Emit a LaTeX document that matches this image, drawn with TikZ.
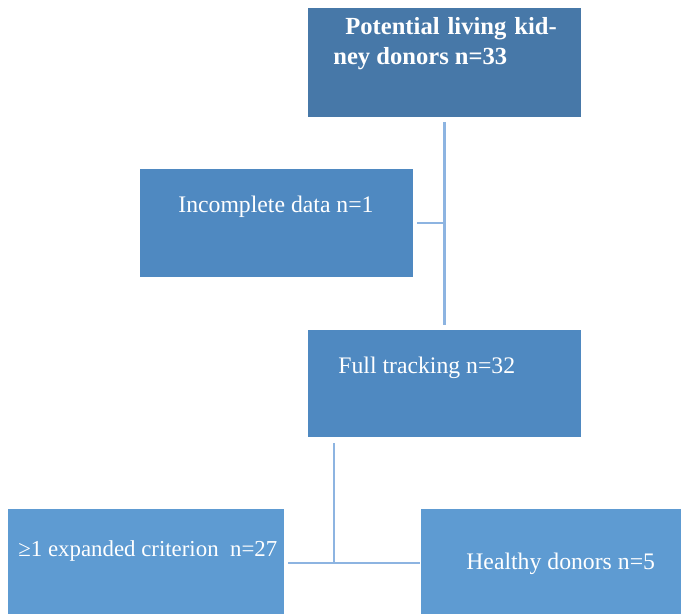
\documentclass[tikz,border=0pt]{standalone}
\usepackage{fontspec}
\setmainfont{Liberation Serif}
\usepackage{xcolor}
\usepackage{tikz}
\usetikzlibrary{positioning,calc}

\definecolor{boxdark}{HTML}{4778A8}
\definecolor{boxmid}{HTML}{4F89C1}
\definecolor{boxlight}{HTML}{5E9BD2}
\definecolor{linkblue}{HTML}{8DB4E1}

\begin{document}
\begin{tikzpicture}[
    box/.style={rectangle, draw=none, minimum width=5.46cm, minimum height=2.16cm,
                inner sep=0pt},
    txt/.style={anchor=west, text=white, font=\fontsize{13.5}{16}\selectfont, inner sep=0pt},
    link/.style={draw=linkblue, line width=1.2pt},
  ]
  \useasboundingbox (0,0) rectangle (13.62,-12.28);

  % Potential donors
  \node[box, fill=boxdark, minimum height=2.18cm] (top) at (8.89,-1.25) {};
  \node[txt, anchor=north west, align=left, font=\fontsize{14}{17}\selectfont\bfseries] (toptxt) at (6.66,-0.34)
    {\hspace{0.24cm}Potential\hspace{0.16cm}living\hspace{0.16cm}kid-\\ney donors n=33};

  % Incomplete data
  \node[box, fill=boxmid] (inc) at (5.53,-4.46) {};
  \node[txt] (inctxt) at (3.56,-4.14) {Incomplete data n=1};

  % Full tracking
  \node[box, fill=boxmid, minimum height=2.14cm] (full) at (8.89,-7.67) {};
  \node[txt] (fulltxt) at (6.76,-7.36) {Full tracking n=32};

  % Expanded criterion
  \node[box, fill=boxlight, minimum width=5.52cm, minimum height=2.3cm] (exp) at (2.92,-11.33) {};
  \node[txt, font=\fontsize{13}{16}\selectfont] (exptxt) at (0.36,-11.02) {≥1 expanded criterion\ \ n=27};

  % Healthy donors
  \node[box, fill=boxlight, minimum width=5.3cm, minimum height=2.3cm] (heal) at (11.07,-11.33) {};
  \node[txt] (healtxt) at (9.32,-11.28) {Healthy donors n=5};

  % Connectors
  \coordinate (join) at (top.south |- inc.east);
  \coordinate (drop) at ([xshift=0.52cm]full.south west);
  \coordinate (split) at ($(drop |- exp.east)+(0,0.07)$);

  \draw[link, shorten <=0.1cm, shorten >=0.1cm] (top.south) -- (full.north);
  \draw[link, shorten <=0.08cm] (inc.east) -- (join);

  \draw[link, shorten <=0.12cm] (drop) -- (split);
  \draw[link, shorten <=0.08cm, shorten >=0.02cm] (exp.east |- split) -- (heal.west |- split);

\end{tikzpicture}
\end{document}
